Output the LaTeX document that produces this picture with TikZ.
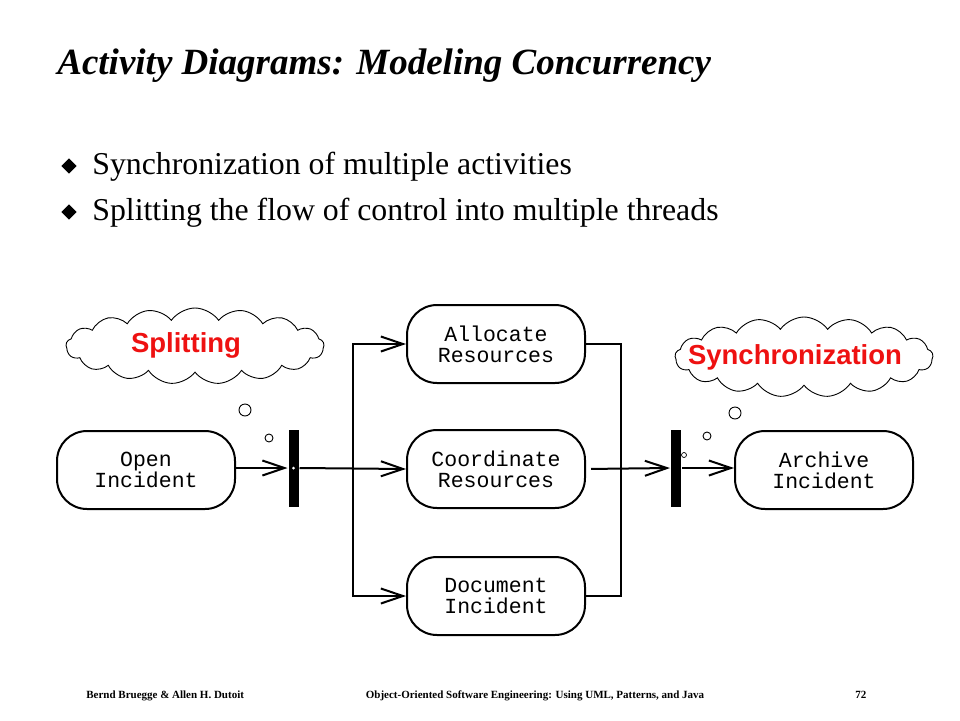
\documentclass[tikz,border=0pt]{standalone}
\usepackage{fontspec}
\setmainfont{Liberation Serif}
\setsansfont{Liberation Sans}
\setmonofont{Liberation Mono}
\usepackage{tikz}
\usetikzlibrary{shapes.geometric, shapes.symbols, arrows.meta, positioning, calc}
\definecolor{callred}{HTML}{EE1111}

\begin{document}
\begin{tikzpicture}[
  x=1pt, y=-1pt,
  >={Straight Barb[length=22pt, width=15pt]},
  line width=2pt,
  act/.style={rectangle, rounded corners=30pt, draw, line width=2pt,
              minimum width=178pt, minimum height=78pt, align=center,
              font=\ttfamily\fontsize{21.5}{21}\selectfont},
  bar/.style={rectangle, fill=black, inner sep=0pt, minimum width=10pt, minimum height=77pt},
  cloudy/.style={cloud, cloud puffs=17, cloud puff arc=110, aspect=3.4, draw, line width=0.9pt, inner sep=0pt},
  calltext/.style={text=callred, font=\sffamily\bfseries\fontsize{27.5}{30}\selectfont},
  bubble/.style={circle, draw, line width=0.9pt, inner sep=0pt},
  bullet/.style={diamond, fill=black, inner sep=0pt, minimum size=16pt},
  foot/.style={font=\bfseries\fontsize{11}{13}\selectfont},
]
\useasboundingbox (0,0) rectangle (960,720);

% ---------- title and bullets ----------
\node[anchor=base west, font=\bfseries\itshape\fontsize{37}{44}\selectfont] (title) at (53,74)
  {Activity Diagrams: Modeling Concurrency};
\node[bullet] (b1) at (69,166) {};
\node[anchor=base west, font=\fontsize{31.8}{36}\selectfont] (t1) at (88,174)
  {Synchronization of multiple activities};
\node[bullet] (b2) at (69,212) {};
\node[anchor=base west, font=\fontsize{31.8}{36}\selectfont] (t2) at (88,220)
  {Splitting the flow of control into multiple threads};

% ---------- activities ----------
\node[act] (coord) at (496,469) {Coordinate\\Resources};
\node[act, above=45pt of coord] (alloc) {Allocate\\Resources};
\node[act, below=47pt of coord] (doc) {Document\\Incident};
\node[act] (open) at (146,470) {Open\\Incident};
\node[act] (archive) at (824,470) {Archive\\Incident};

% fork and join bars
\node[bar] (fork) at (293.5,468) {};
\node[bar] (sync) at (676,468) {};
\coordinate (split) at (353,468);
\coordinate (merge) at (621,468);

% ---------- flow ----------
\draw[->] (open.east |- fork) -- (fork.west);
\draw[->] (fork.east) -- (coord.west);
\draw[->] (split) |- (alloc.west);
\draw[->] (split) |- (doc.west);
\draw (alloc.east) -| (merge) |- (doc.east);
\draw[->, shorten <=5pt] (coord.east) -- (sync.west);
\draw[->] (sync.east) -- (archive.west |- sync);
\fill[white] (fork) circle (1.5);
\draw[line width=0.7pt] (684,455) circle (2.5);

% ---------- call-outs ----------
\node[cloudy, minimum width=258pt, minimum height=76pt] (splitcloud) at (195,346) {};
\node[calltext] (splittext) at (186,345) {Splitting};
\node[bubble, minimum size=12pt] (sb1) at (245,410) {};
\node[bubble, minimum size=8pt] (sb2) at (269,438) {};

\node[cloudy, minimum width=258pt, minimum height=80pt] (synccloud) at (804,357) {};
\node[calltext] (synctext) at (795,357) {Synchronization};
\node[bubble, minimum size=12pt] (yb1) at (735,413) {};
\node[bubble, minimum size=8pt] (yb2) at (707,436) {};

% ---------- footer ----------
\node[foot, anchor=base west] (authors) at (82,698) {Bernd Bruegge \& Allen H. Dutoit};
\node[foot, anchor=base] (book) at (535,698) {Object-Oriented Software Engineering: Using UML, Patterns, and Java};
\node[foot, anchor=base west] (page) at (851,698) {72};
\end{tikzpicture}
\end{document}
